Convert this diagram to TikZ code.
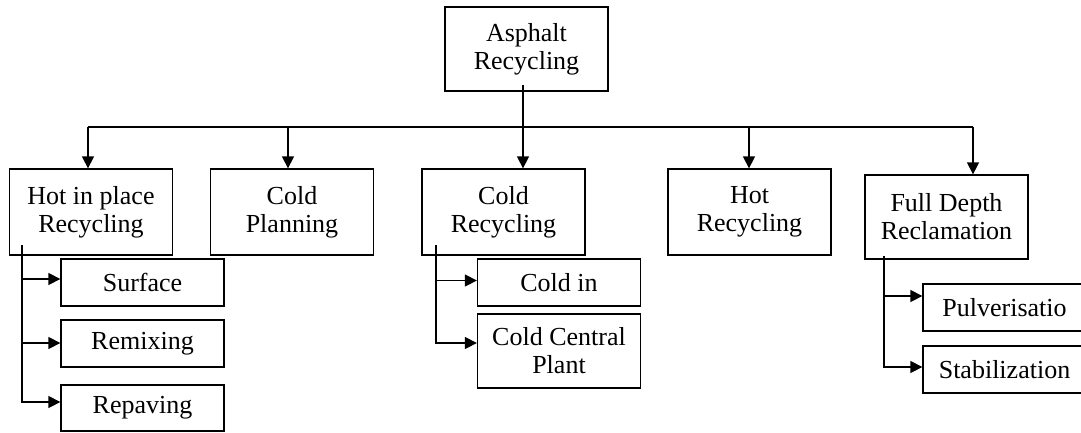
\documentclass[tikz,border=0pt]{standalone}
\usepackage{fontspec}
\setmainfont{Liberation Serif}
\usetikzlibrary{arrows.meta}
\begin{document}
\begin{tikzpicture}[x=1pt,y=-1pt,
  box/.style={draw, line width=1.3pt, align=center, inner sep=0pt,
    minimum width=163pt, font=\fontsize{26}{28}\selectfont},
  ln/.style={line width=1.3pt},
  arr/.style={line width=1.3pt, -{Triangle[length=12pt,width=12pt]}}]
\useasboundingbox (0,0) rectangle (1081,432);
\clip (0,0) rectangle (1081,432);
\fill[white] (0,0) rectangle (1081,432);
% nodes
\node[box, minimum height=84pt] (top) at (526.5,49) {Asphalt\\Recycling};
\node[box, minimum height=86pt] (hip) at (91,212) {Hot in place\\Recycling};
\node[box, minimum height=86pt] (cp) at (292,212) {Cold\\Planning};
\node[box, minimum height=86pt] (cr) at (503.5,212) {Cold\\Recycling};
\node[box, minimum height=86pt] (hr) at (749.5,212) {Hot\\Recycling};
\node[box, minimum height=84pt] (fdr) at (946.5,217) {Full Depth\\Reclamation};
\node[box, minimum height=47pt] (surf) at (142.5,282.5) {Surface};
\node[box, minimum height=47pt] (remix) at (142.5,343.5) {Remixing};
\node[box, minimum height=46pt] (repav) at (142.5,408) {Repaving};
\node[box, minimum height=47pt] (coldin) at (559,282.5) {Cold in};
\node[box, minimum height=74pt] (ccp) at (559,351) {Cold Central\\Plant};
\node[box, minimum height=47pt] (pulv) at (1004.5,307.5) {Pulverisatio};
\node[box, minimum height=47pt] (stab) at (1004.5,369.5) {Stabilization};
% bus
\coordinate (tS) at (523,85);
\coordinate (b1) at (88,127);
\coordinate (b2) at (288,127);
\coordinate (b4) at (749,127);
\coordinate (b5) at (973,127);
\draw[ln] (b1) -- (b5);
\draw[arr] (tS) -- (tS |- cr.north);
\draw[arr] (b1) -- (b1 |- hip.north);
\draw[arr] (b2) -- (b2 |- cp.north);
\draw[arr] (b4) -- (b4 |- hr.north);
\draw[arr] (b5) -- (b5 |- fdr.north);
% left branch
\coordinate (l0) at (22,245);
\draw[ln] (l0) -- (22,402);
\draw[arr] (l0) |- ([yshift=3.5pt]surf.west);
\draw[arr] (l0) |- ([yshift=0.5pt]remix.west);
\draw[arr] (l0) |- ([yshift=6pt]repav.west);
% cold branch
\coordinate (c0) at (436,245);
\draw[arr] (c0) |- ([yshift=2pt]coldin.west);
\draw[arr] (c0) |- ([yshift=8pt]ccp.west);
% fdr branch
\coordinate (f0) at (884,256);
\draw[arr] (f0) |- ([yshift=11.5pt]pulv.west);
\draw[arr] (f0) |- ([yshift=2.5pt]stab.west);
\end{tikzpicture}
\end{document}
